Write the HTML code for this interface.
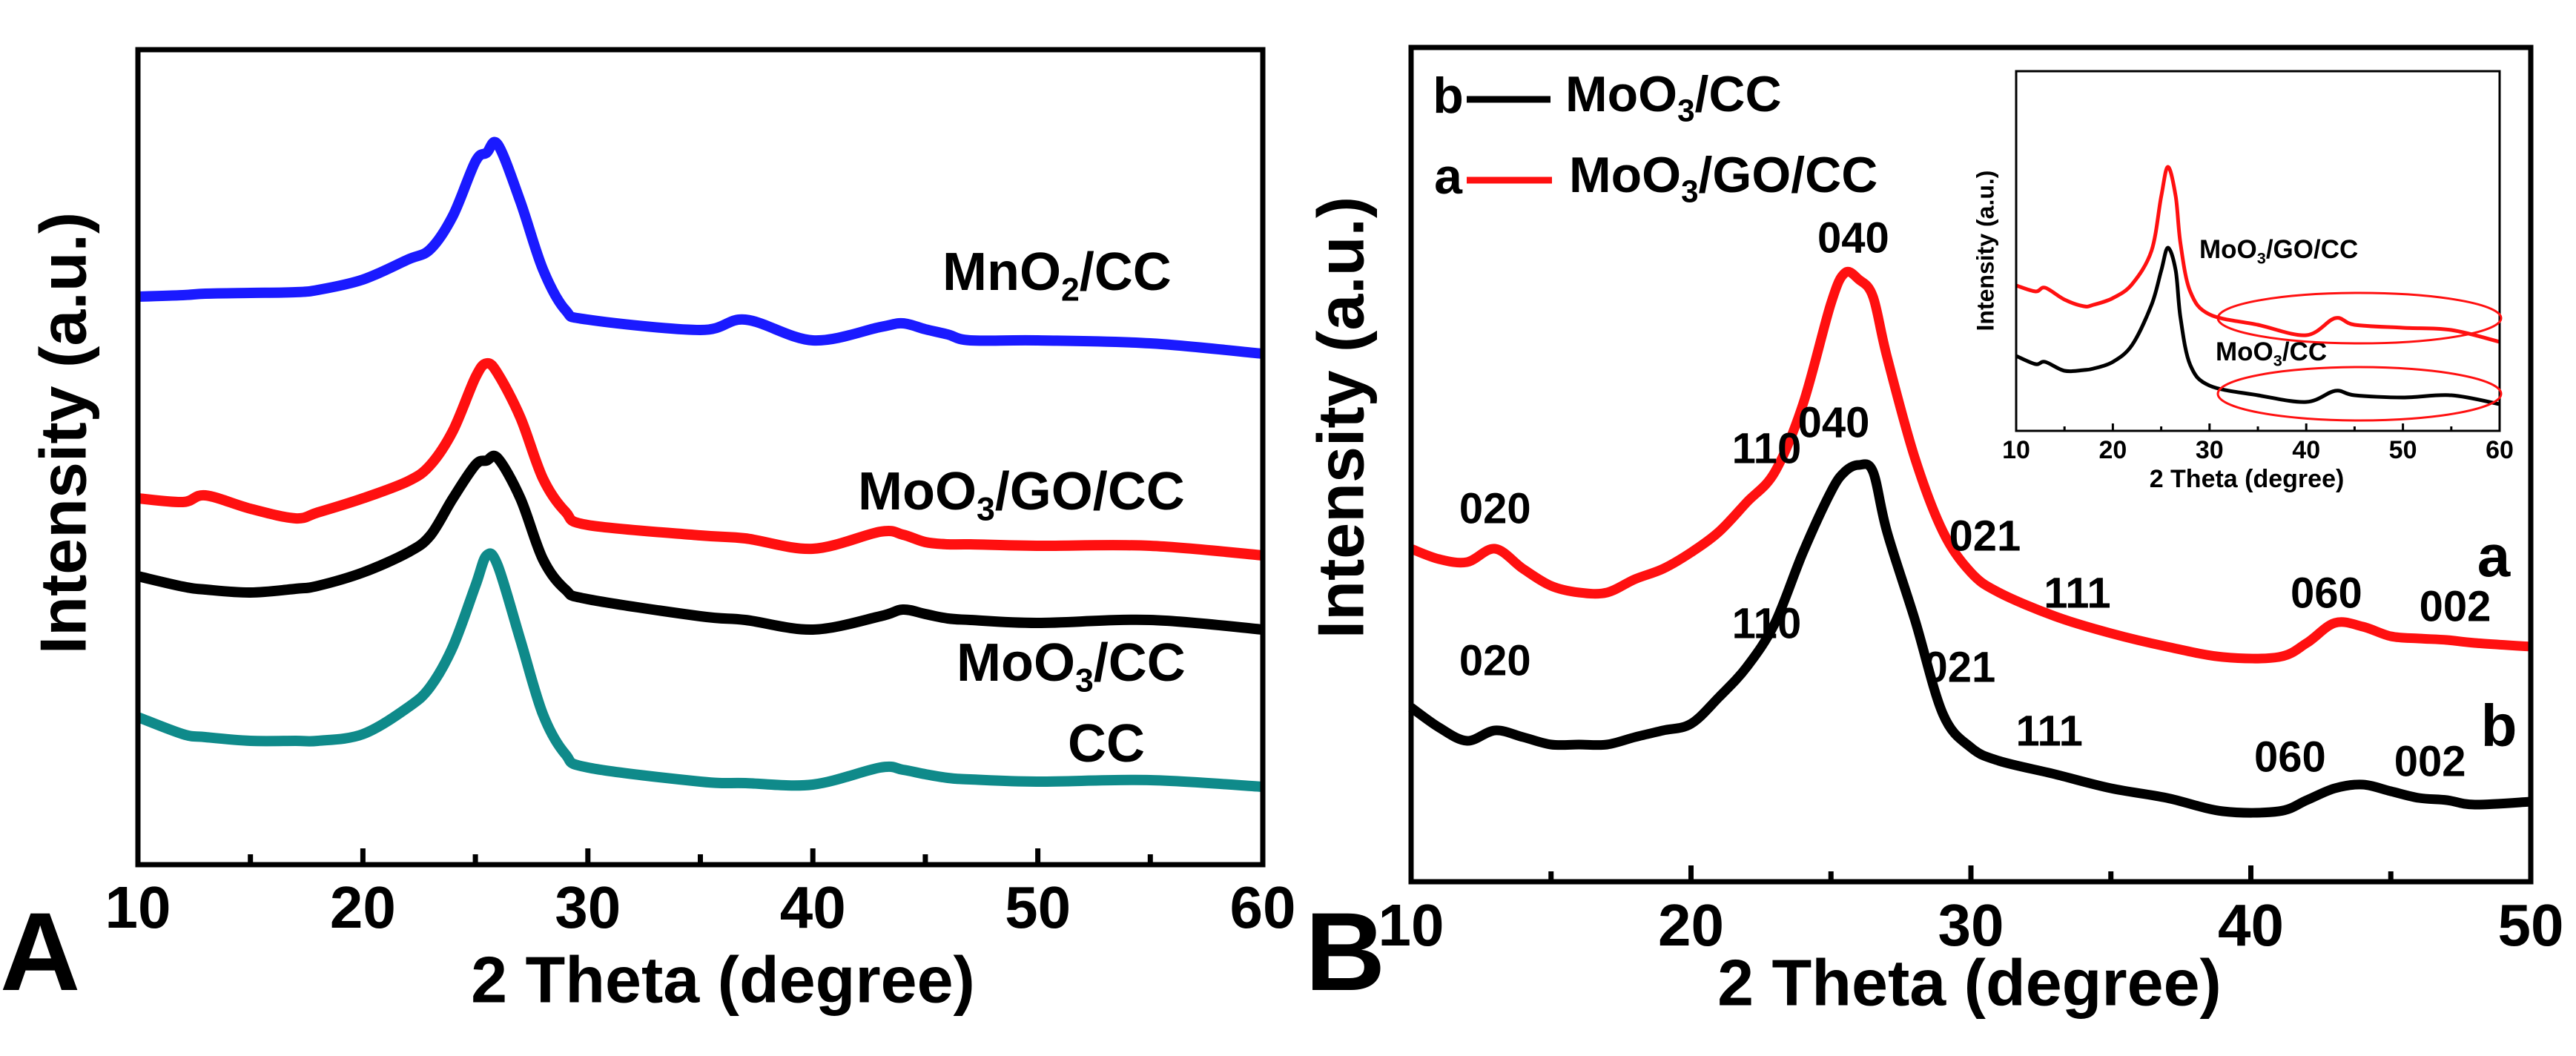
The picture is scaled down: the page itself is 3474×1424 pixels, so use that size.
<!DOCTYPE html>
<html><head><meta charset="utf-8">
<style>
html,body{margin:0;padding:0;background:#fff;}
svg{display:block;font-family:"Liberation Sans",Arial,sans-serif;font-weight:bold;}
</style></head>
<body>
<svg id="fig" width="3474" height="1424" viewBox="0 0 3474 1424" xmlns="http://www.w3.org/2000/svg">
<g id="gA"></g>
<g id="gB"></g>
<g id="gI"></g>
</svg>
<script>
// Panel A data (2θ degrees, intensity a.u.)
const aX = [10,12,13,15,17,18,20,22,23,24,25,25.5,26,27,28,29,30,35,37,40,43,44,45,46,47,50,55,60];
const aMnO2 = [766,768,770,771,772,775,789,816,830,875,948,960,971,894,803,748,735,721,735,707,725,730,722,715,707,707,703,689];
const aMoGO = [494,489,498,480,467,475,494,517,539,585,657,676,662,603,521,476,458,444,440,426,449,445,435,432,432,430,430,417];
const aMo = [389,375,371,367,372,376,394,421,444,494,539,545,548,494,412,371,358,335,330,317,335,344,338,332,330,326,330,317];
const aCC = [199,176,172,167,167,167,176,212,240,294,376,417,403,303,203,149,131,112,110,108,131,128,122,117,115,112,114,105];
const aTicks = [10,20,30,40,50,60];
// Panel B data
const bX = [10,11,12,13,14,15,16,17,18,19,20,21,22,23,24,25,25.5,26,26.5,27,28,29,30,31,33,35,37,39,41,42,43,44,45,46,47,48,50];
const bA = [449,435,431,449,422,399,390,390,408,422,444,472,512,553,644,780,821,812,789,708,571,472,417,390,358,335,317,303,303,322,349,344,331,328,326,322,317];
const bB = [235,208,190,204,195,185,185,185,195,204,213,249,290,349,444,526,553,562,553,472,353,226,181,163,145,126,113,95,95,110,126,131,122,113,110,104,108];
const bTicks = [10,20,30,40,50];
const bPeakA = [["020",13,690],["110",22.7,609],["040",25.8,325],["021",30.5,727],["111",33.8,804],["060",42.7,804],["002",47.3,822]];
const bPeakB = [["020",13,895],["110",22.7,845],["040",25.1,574],["021",29.6,904],["111",32.8,990],["060",41.4,1025],["002",46.4,1031]];
// Inset data
const iX = [10,12,13,15,17,18,20,22,24,25,25.7,26.5,27,28,30,35,40,43,45,50,55,60];
const iRed = [196,188,193,177,168,170,179,198,243,316,356,316,252,188,157,143,129,152,143,139,136,120];
const iBlack = [101,90,93,81,82,84,93,116,170,216,247,216,152,89,61,48,39,54,48,45,48,36];
const iTicks = [10,20,30,40,50,60];

const NS="http://www.w3.org/2000/svg";
function mk(parent,tag,attrs,txt){const e=document.createElementNS(NS,tag);for(const k in attrs)e.setAttribute(k,attrs[k]);if(txt!==undefined)e.textContent=txt;parent.appendChild(e);return e;}
function smoothPath(xs,ys,sx,sy){
  const p=xs.map((x,i)=>[sx(x),sy(ys[i])]);
  let d='M'+p[0][0].toFixed(1)+','+p[0][1].toFixed(1);
  for(let i=0;i<p.length-1;i++){
    const p0=p[Math.max(0,i-1)],p1=p[i],p2=p[i+1],p3=p[Math.min(p.length-1,i+2)];
    const c1=[p1[0]+(p2[0]-p0[0])/6,p1[1]+(p2[1]-p0[1])/6];
    const c2=[p2[0]-(p3[0]-p1[0])/6,p2[1]-(p3[1]-p1[1])/6];
    d+='C'+c1[0].toFixed(1)+','+c1[1].toFixed(1)+' '+c2[0].toFixed(1)+','+c2[1].toFixed(1)+' '+p2[0].toFixed(1)+','+p2[1].toFixed(1);
  }
  return d;
}
function formula(parent,x,y,size,parts,anchor,name){
  const t=mk(parent,'text',{x:x,y:y,'font-size':size,'text-anchor':anchor||'start','dominant-baseline':'middle'});
  
  
  parts.forEach(p=>{const ts=mk(t,'tspan',{});ts.textContent=p[0];if(p[1]){ts.setAttribute('font-size',size*0.62);ts.setAttribute('dy',size*0.3);}else if(p[2]){ts.setAttribute('dy',-size*0.3);}});
  return t;
}

// ---------- Panel A ----------
(function(){
  const g=document.getElementById('gA');
  const L=186,R=1703,T=67,B=1166;
  const sx=v=>L+(v-10)/50*(R-L);
  const sy=v=>B-v;
  const series=[[aMnO2,'#1a1aff','mno2-cc-curve'],[aMoGO,'#ff1010','moo3-go-cc-curve'],[aMo,'#000','moo3-cc-curve'],[aCC,'#0f8a8a','cc-curve']];
  series.forEach(s=>{const p=mk(g,'path',{d:smoothPath(aX,s[0],sx,sy),fill:'none',stroke:s[1],'stroke-width':14,'stroke-linejoin':'round'});
    
    });
  const box=mk(g,'rect',{x:L,y:T,width:R-L,height:B-T,fill:'none',stroke:'#000','stroke-width':7});
  
  
  for(let v=10;v<=60;v+=5){mk(g,'line',{x1:sx(v),x2:sx(v),y1:B,y2:B-(v%10===0?22:14),stroke:'#000','stroke-width':7});}
  aTicks.forEach(v=>{const t=mk(g,'text',{x:sx(v),y:1230,'font-size':80,'text-anchor':'middle','dominant-baseline':'middle'},String(v));
    
    });
  const xt=mk(g,'text',{x:975,y:1328,'font-size':88,'text-anchor':'middle','dominant-baseline':'middle'},'2 Theta (degree)');
  
  
  const yt=mk(g,'text',{x:0,y:0,'font-size':88,'text-anchor':'middle','dominant-baseline':'middle',transform:'translate(92,584) rotate(-90)'},'Intensity (a.u.)');
  
  
  const pl=mk(g,'text',{x:0,y:1335,'font-size':150},'A');
  
  
  formula(g,1271,372,72,[['MnO'],['2',1],['/CC',0,1]],'start','label-mno2-cc');
  formula(g,1157,668,72,[['MoO'],['3',1],['/GO/CC',0,1]],'start','label-moo3-go-cc');
  formula(g,1290,899,72,[['MoO'],['3',1],['/CC',0,1]],'start','label-moo3-cc');
  const cc=mk(g,'text',{x:1440,y:1008,'font-size':72,'dominant-baseline':'middle'},'CC');
  
  
})();

// ---------- Panel B ----------
(function(){
  const g=document.getElementById('gB');
  const L=1903,R=3413,T=64,B=1189;
  const sx=v=>L+(v-10)/40*(R-L);
  const sy=v=>B-v;
  [[bA,'#ff1010','curve-a-moo3-go-cc'],[bB,'#000','curve-b-moo3-cc']].forEach(s=>{const p=mk(g,'path',{d:smoothPath(bX,s[0],sx,sy),fill:'none',stroke:s[1],'stroke-width':13,'stroke-linejoin':'round'});
    
    });
  const box=mk(g,'rect',{x:L,y:T,width:R-L,height:B-T,fill:'none',stroke:'#000','stroke-width':7});
  
  
  for(let v=10;v<=50;v+=5){mk(g,'line',{x1:sx(v),x2:sx(v),y1:B,y2:B-(v%10===0?22:14),stroke:'#000','stroke-width':7});}
  bTicks.forEach(v=>{const t=mk(g,'text',{x:sx(v),y:1254,'font-size':80,'text-anchor':'middle','dominant-baseline':'middle'},String(v));
    
    });
  const xt=mk(g,'text',{x:2656,y:1332,'font-size':88,'text-anchor':'middle','dominant-baseline':'middle'},'2 Theta (degree)');
  
  
  const yt=mk(g,'text',{x:0,y:0,'font-size':88,'text-anchor':'middle','dominant-baseline':'middle',transform:'translate(1815,563) rotate(-90)'},'Intensity (a.u.)');
  
  
  const pl=mk(g,'text',{x:1760,y:1335,'font-size':150},'B');
  
  
  bPeakA.forEach(p=>{const t=mk(g,'text',{x:sx(p[1]),y:p[2],'font-size':58,'text-anchor':'middle','dominant-baseline':'middle'},p[0]);
    
    });
  bPeakB.forEach(p=>{const t=mk(g,'text',{x:sx(p[1]),y:p[2],'font-size':58,'text-anchor':'middle','dominant-baseline':'middle'},p[0]);
    
    });
  const ta=mk(g,'text',{x:3363,y:756,'font-size':80,'text-anchor':'middle','dominant-baseline':'middle'},'a');
  
  
  const tb=mk(g,'text',{x:3370,y:985,'font-size':80,'text-anchor':'middle','dominant-baseline':'middle'},'b');
  
  
  // legend
  const lg=mk(g,'g',{});
  
  
  const lb=mk(lg,'text',{x:1953,y:134,'font-size':68,'text-anchor':'middle','dominant-baseline':'middle'},'b');
  
  
  mk(lg,'line',{x1:1978,x2:2091,y1:134,y2:134,stroke:'#000','stroke-width':9});
  formula(lg,2111,132,68,[['MoO'],['3',1],['/CC',0,1]],'start','legend-entry-moo3-cc');
  const la=mk(lg,'text',{x:1953,y:243,'font-size':68,'text-anchor':'middle','dominant-baseline':'middle'},'a');
  
  
  mk(lg,'line',{x1:1978,x2:2093,y1:243,y2:243,stroke:'#ff1010','stroke-width':9});
  formula(lg,2116,241,68,[['MoO'],['3',1],['/GO/CC',0,1]],'start','legend-entry-moo3-go-cc');
})();

// ---------- Inset ----------
(function(){
  const g=document.getElementById('gI');
  const L=2719,R=3371,T=96,B=581;
  const sx=v=>L+(v-10)/50*(R-L);
  const sy=v=>B-v;
  [[iRed,'#ff1010','inset-curve-moo3-go-cc'],[iBlack,'#000','inset-curve-moo3-cc']].forEach(s=>{const p=mk(g,'path',{d:smoothPath(iX,s[0],sx,sy),fill:'none',stroke:s[1],'stroke-width':5,'stroke-linejoin':'round'});
    
    });
  const box=mk(g,'rect',{x:L,y:T,width:R-L,height:B-T,fill:'none',stroke:'#000','stroke-width':3});
  
  
  for(let v=10;v<=60;v+=5){mk(g,'line',{x1:sx(v),x2:sx(v),y1:B,y2:B-(v%10===0?10:6),stroke:'#000','stroke-width':3});}
  iTicks.forEach(v=>{const t=mk(g,'text',{x:sx(v),y:609,'font-size':34,'text-anchor':'middle','dominant-baseline':'middle'},String(v));
    
    });
  const xt=mk(g,'text',{x:3030,y:648,'font-size':34,'text-anchor':'middle','dominant-baseline':'middle'},'2 Theta (degree)');
  
  
  const yt=mk(g,'text',{x:0,y:0,'font-size':32,'text-anchor':'middle','dominant-baseline':'middle',transform:'translate(2680,338) rotate(-90)'},'Intensity (a.u.)');
  
  
  formula(g,2966,339,35,[['MoO'],['3',1],['/GO/CC',0,1]],'start','inset-label-moo3-go-cc');
  formula(g,2988,477,35,[['MoO'],['3',1],['/CC',0,1]],'start','inset-label-moo3-cc');
  const e1=mk(g,'ellipse',{cx:3182,cy:429,rx:191,ry:34,fill:'none',stroke:'#ff1010','stroke-width':3});
  
  
  const e2=mk(g,'ellipse',{cx:3182,cy:531,rx:191,ry:36,fill:'none',stroke:'#ff1010','stroke-width':3});
  
  
})();
</script>
</body></html>
